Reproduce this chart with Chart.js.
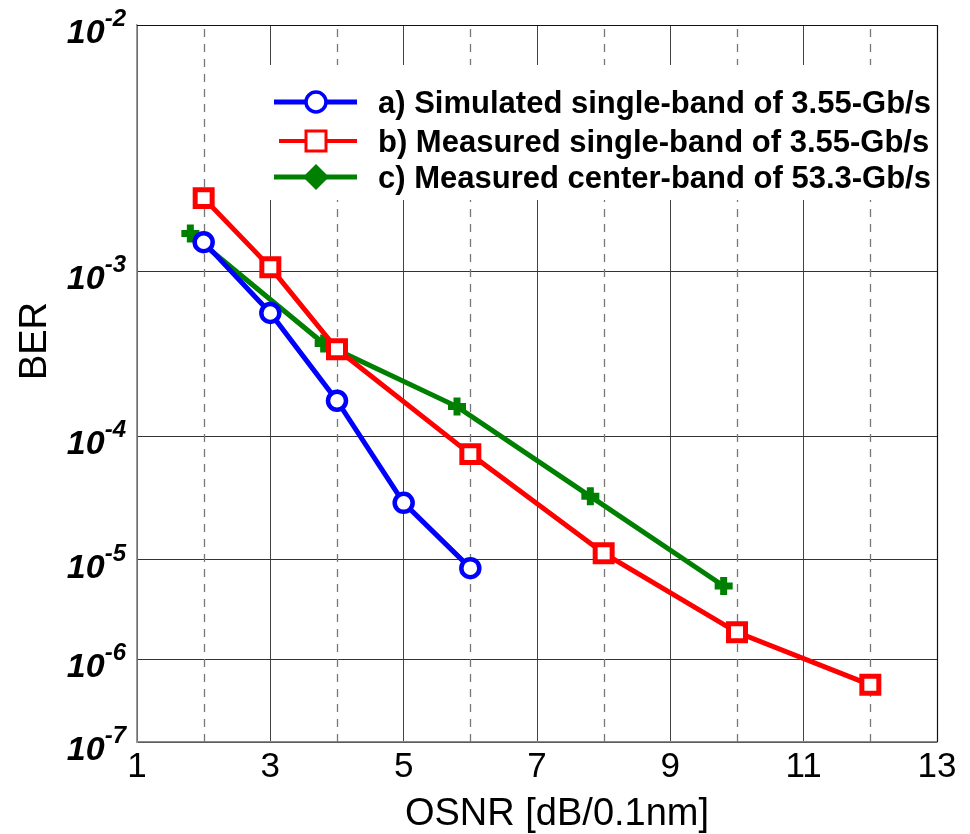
<!DOCTYPE html>
<html>
<head>
<meta charset="utf-8">
<script src="https://cdn.jsdelivr.net/npm/chart.js@4.4.0/dist/chart.umd.min.js"></script>
<style>
  html, body { margin: 0; padding: 0; background: #fff; }
  #wrap { width: 970px; height: 834px; }
</style>
</head>
<body>
<div id="wrap"><canvas id="berChart"></canvas></div>
<script>
const osnrTicks = [1, 2, 3, 4, 5, 6, 7, 8, 9, 10, 11, 12, 13];
const berTicks = [1e-2, 1e-3, 1e-4, 1e-5, 1e-6, 1e-7];
const berExp = [-2, -3, -4, -5, -6, -7];

const seriesNames = [
  "a) Simulated single-band of 3.55-Gb/s",
  "b) Measured single-band of 3.55-Gb/s",
  "c) Measured center-band of 53.3-Gb/s",
];
const simX = [2, 3, 4, 5, 6];
const simBer = [1.4e-3, 6.0e-4, 1.75e-4, 3.1e-5, 8.4e-6];
const measX = [2, 3, 4, 6, 8, 10, 12];
const measBer = [2.24e-3, 1.05e-3, 3.7e-4, 7.4e-5, 1.15e-5, 1.95e-6, 5.1e-7];
const centerX = [1.8, 3.8, 5.8, 7.8, 9.8];
const centerBer = [1.54e-3, 4.0e-4, 1.6e-4, 3.5e-5, 5.7e-6];

const FONT = "'Liberation Sans', Arial, sans-serif";

// BER axis: stretched log scale, like the one used in the paper plot
const CUT = 0.42;
function berT(v) {
  return Math.log10(-Math.log10(v) - CUT);
}

class BerScale extends Chart.Scale {
  determineDataLimits() {
    this.min = this.options.min;
    this.max = this.options.max;
  }
  buildTicks() {
    return berTicks.map((v) => ({ value: v }));
  }
  getLabelForValue(v) {
    return v.toExponential(1);
  }
  configure() {
    super.configure();
    this._t0 = berT(this.min);
    this._tr = berT(this.max) - this._t0;
  }
  getPixelForValue(v) {
    if (v === null || v === undefined || isNaN(v)) return NaN;
    return this.getPixelForDecimal((berT(v) - this._t0) / this._tr);
  }
  getValueForPixel(p) {
    const d = this.getDecimalForPixel(p);
    return Math.pow(10, -(Math.pow(10, this._t0 + d * this._tr) + CUT));
  }
}
BerScale.id = "ber";
BerScale.defaults = {};
Chart.register(BerScale);

function toPoints(xs, ys) {
  return xs.map((x, i) => ({ x: x, y: ys[i] }));
}

const styles = [
  { color: "#0000ff", marker: "circle" },
  { color: "#ff0000", marker: "rect" },
  { color: "#008000", marker: "diamond" },
];

function drawMarker(ctx, kind, x, y, color) {
  ctx.save();
  ctx.strokeStyle = color;
  ctx.fillStyle = "#fff";
  if (kind === "circle") {
    ctx.lineWidth = 3.5;
    ctx.beginPath();
    ctx.arc(x, y, 10, 0, Math.PI * 2);
    ctx.fill();
    ctx.stroke();
  } else if (kind === "rect") {
    ctx.lineWidth = 3;
    ctx.fillRect(x - 10, y - 10, 20, 20);
    ctx.strokeRect(x - 10, y - 10, 20, 20);
  } else {
    ctx.fillStyle = color;
    ctx.beginPath();
    ctx.moveTo(x, y - 13);
    ctx.lineTo(x + 13, y);
    ctx.lineTo(x, y + 13);
    ctx.lineTo(x - 13, y);
    ctx.closePath();
    ctx.fill();
  }
  ctx.restore();
}

const decorPlugin = {
  id: "decor",
  beforeDatasetsDraw(chart) {
    const { ctx, chartArea } = chart;
    const xs = chart.scales.x;
    ctx.save();
    ctx.strokeStyle = "#777";
    ctx.lineWidth = 1.3;
    ctx.setLineDash([8, 7]);
    osnrTicks.forEach((t) => {
      if (t % 2 !== 0) return;
      const px = Math.round(xs.getPixelForValue(t)) + 0.5;
      ctx.beginPath();
      ctx.moveTo(px, chartArea.top + 4);
      ctx.lineTo(px, chartArea.bottom);
      ctx.stroke();
    });
    ctx.restore();
  },
  afterDraw(chart) {
    const { ctx, chartArea } = chart;
    const ys = chart.scales.y;

    // legend
    ctx.save();
    ctx.fillStyle = "#fff";
    ctx.fillRect(255, 65, 676, 135);
    const rows = [102, 141, 177];
    seriesNames.forEach((name, i) => {
      const st = styles[i];
      ctx.strokeStyle = st.color;
      ctx.lineWidth = i === 1 ? 4 : 5;
      ctx.beginPath();
      ctx.moveTo(i === 1 ? 279 : 274, rows[i]);
      ctx.lineTo(357, rows[i]);
      ctx.stroke();
      drawMarker(ctx, st.marker, 316, rows[i], st.color);
      ctx.fillStyle = "#000";
      ctx.font = "bold 31px " + FONT;
      ctx.textAlign = "left";
      ctx.textBaseline = "middle";
      ctx.fillText(name, 378, rows[i] + 2);
    });
    ctx.restore();

    // top and right frame
    ctx.save();
    ctx.strokeStyle = "#111";
    ctx.lineWidth = 1.2;
    ctx.beginPath();
    ctx.moveTo(chartArea.left, chartArea.top + 0.5);
    ctx.lineTo(chartArea.right + 0.5, chartArea.top + 0.5);
    ctx.lineTo(chartArea.right + 0.5, chartArea.bottom);
    ctx.stroke();
    ctx.restore();

    // y tick labels 10^-k
    ctx.save();
    ctx.fillStyle = "#000";
    ctx.textBaseline = "alphabetic";
    ctx.textAlign = "left";
    berTicks.forEach((v, i) => {
      const py = ys.getPixelForValue(v);
      const sup = String(berExp[i]);
      ctx.font = "italic bold 24px " + FONT;
      const wSup = ctx.measureText(sup).width;
      ctx.font = "italic bold 34px " + FONT;
      const wBase = ctx.measureText("10").width;
      const right = 126;
      const x0 = right - wSup - wBase;
      ctx.fillText("10", x0, py + 18);
      ctx.font = "italic bold 24px " + FONT;
      ctx.fillText(sup, x0 + wBase, py + 1);
    });
    ctx.restore();

    // axis titles
    ctx.save();
    ctx.fillStyle = "#000";
    ctx.font = "38px " + FONT;
    ctx.textAlign = "center";
    ctx.textBaseline = "alphabetic";
    ctx.fillText("OSNR [dB/0.1nm]", 557, 825);
    ctx.translate(46, 341);
    ctx.rotate(-Math.PI / 2);
    ctx.fillText("BER", 0, 0);
    ctx.restore();
  },
};

new Chart(document.getElementById("berChart"), {
  type: "line",
  data: {
    datasets: [
      {
        label: seriesNames[0],
        data: toPoints(simX, simBer),
        borderColor: "#0000ff",
        backgroundColor: "#ffffff",
        borderWidth: 5,
        pointStyle: "circle",
        pointRadius: 9,
        pointBorderWidth: 4.5,
        pointBorderColor: "#0000ff",
        pointBackgroundColor: "#ffffff",
      },
      {
        label: seriesNames[1],
        data: toPoints(measX, measBer),
        borderColor: "#ff0000",
        backgroundColor: "#ffffff",
        borderWidth: 5,
        pointStyle: "rect",
        pointRadius: 12,
        pointBorderWidth: 5,
        pointBorderColor: "#ff0000",
        pointBackgroundColor: "#ffffff",
      },
      {
        label: seriesNames[2],
        data: toPoints(centerX, centerBer),
        borderColor: "#008000",
        backgroundColor: "#008000",
        borderWidth: 5,
        pointStyle: "cross",
        pointRadius: 9,
        pointBorderWidth: 7,
        pointBorderColor: "#008000",
        pointBackgroundColor: "#008000",
      },
    ],
  },
  options: {
    responsive: true,
    maintainAspectRatio: false,
    animation: false,
    devicePixelRatio: 1,
    layout: { padding: { top: 25, right: 33, left: 0, bottom: 0 } },
    plugins: {
      legend: { display: false },
      tooltip: { enabled: false },
    },
    scales: {
      x: {
        type: "linear",
        min: 1,
        max: 13,
        afterFit: (scale) => { scale.height = 92; },
        afterBuildTicks: (scale) => {
          scale.ticks = osnrTicks.map((v) => ({ value: v }));
        },
        ticks: {
          autoSkip: false,
          maxRotation: 0,
          padding: 4,
          color: "#000",
          font: { family: FONT, size: 35 },
          callback: (v) => (v % 2 ? String(v) : ""),
        },
        grid: {
          drawTicks: false,
          lineWidth: 1,
          color: (c) => {
            const v = c.tick && c.tick.value;
            if (v === 13) return "#111";
            return v % 2 ? "#444" : "rgba(0,0,0,0)";
          },
        },
        border: { color: "#888", width: 1.5 },
      },
      y: {
        type: "ber",
        min: 1e-7,
        max: 1e-2,
        afterFit: (scale) => { scale.width = 137; },
        ticks: { display: false },
        grid: { drawTicks: false, color: "#333", lineWidth: 1 },
        border: { color: "#999", width: 1.5 },
      },
    },
  },
  plugins: [decorPlugin],
});
</script>
</body>
</html>
